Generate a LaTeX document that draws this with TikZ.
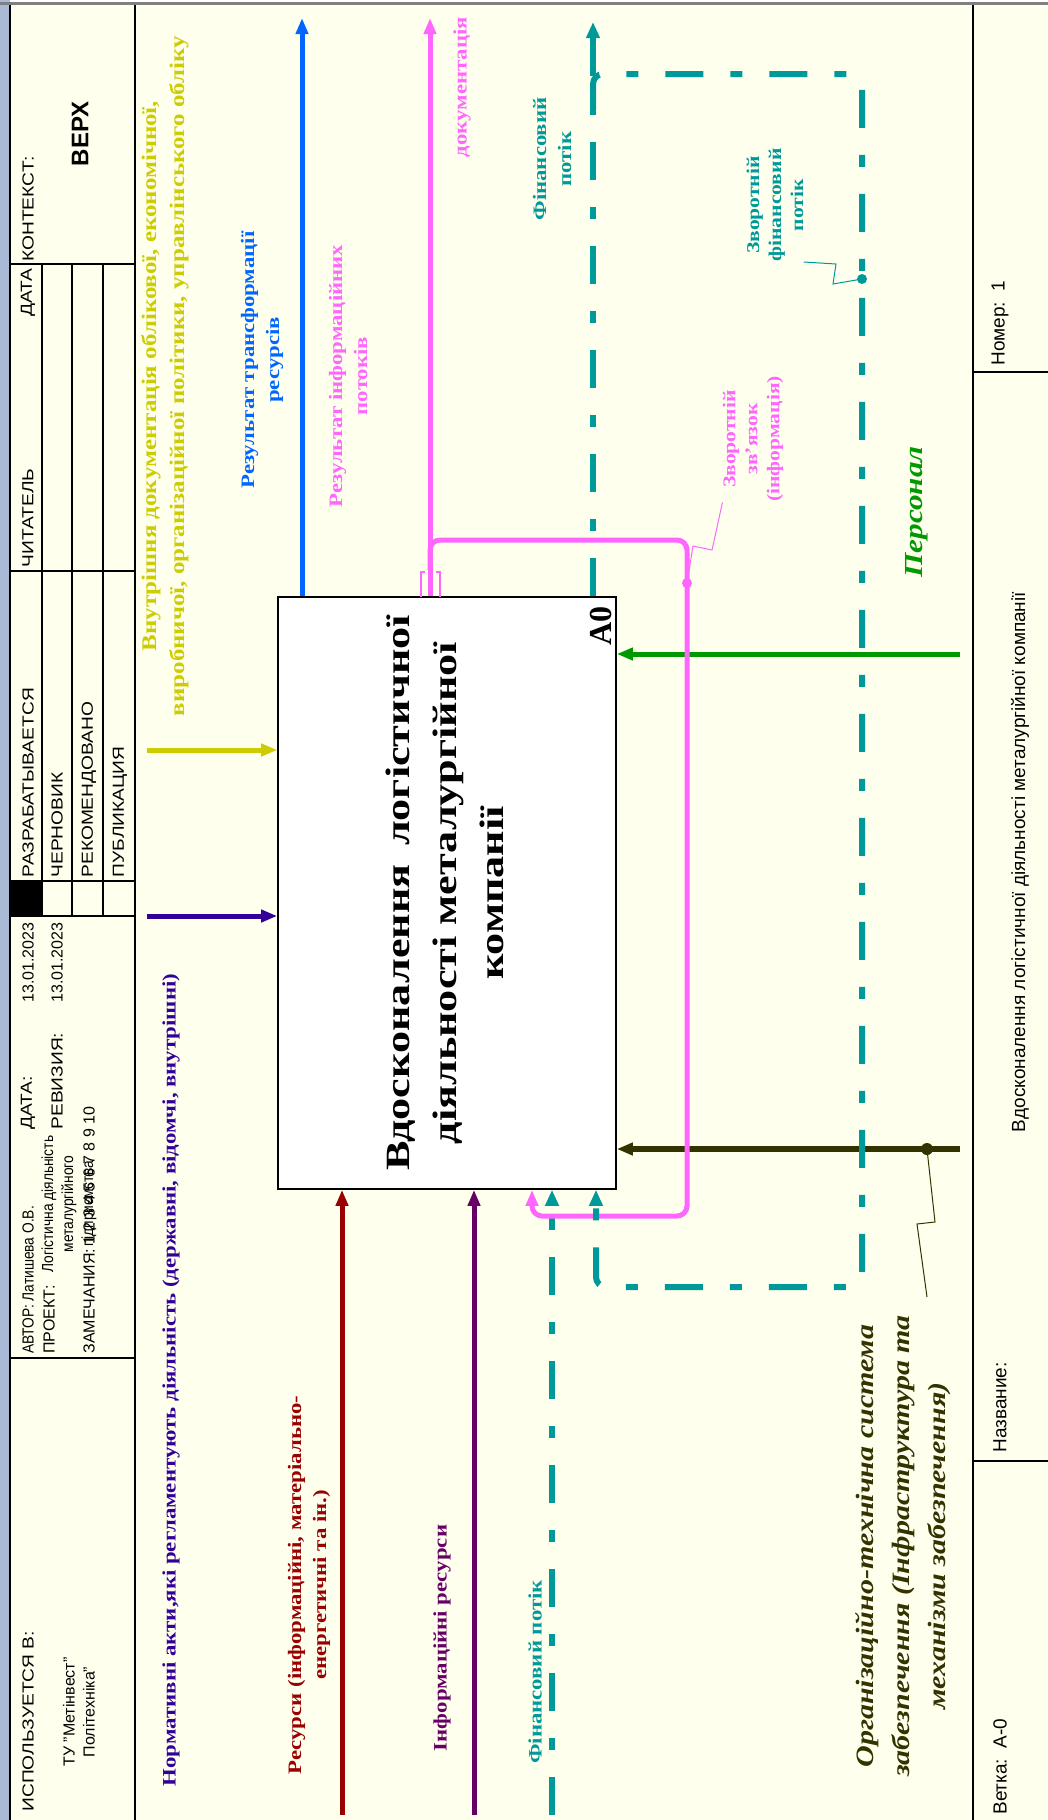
\documentclass[tikz,border=0pt]{standalone}
\usepackage{fontspec}
\setmainfont{Liberation Serif}
\setsansfont{Liberation Sans}
\usepackage{graphicx}
\usepackage{tikz}
\usetikzlibrary{arrows.meta}
\usetikzlibrary{positioning}
\definecolor{paper}{HTML}{FFFFEE}
\definecolor{strip}{HTML}{A8BAD6}
\definecolor{yelc}{HTML}{CCCC00}
\definecolor{indc}{HTML}{330099}
\definecolor{redc}{HTML}{990000}
\definecolor{purc}{HTML}{660066}
\definecolor{bluc}{HTML}{0066FF}
\definecolor{pnkc}{HTML}{FF66FF}
\definecolor{tlc}{HTML}{009999}
\definecolor{grnc}{HTML}{009900}
\definecolor{olvc}{HTML}{333300}
\tikzstyle{frameline} = [line width=0.8pt, black]
\tikzstyle{func} = [rectangle, draw=black, line width=0.8pt, fill=white, minimum width=169pt, minimum height=296pt, inner sep=0pt]
\tikzstyle{flow} = [line width=2.5pt, -{Triangle[length=8pt,width=6pt]}]
\tikzstyle{money} = [line width=3pt, tlc, dash pattern=on 19pt off 13.5pt on 6pt off 13.5pt, -{Triangle[length=8pt,width=6.5pt]}]
\tikzstyle{leader} = [line width=0.5pt]
\tikzstyle{hdr} = [rotate=90, inner sep=0pt, font=\sffamily\fontsize{8}{10}\selectfont]
\tikzstyle{hdrcaps} = [hdr, xscale=1.2]
\tikzstyle{hdrlow} = [hdr, xscale=0.86]
\tikzstyle{ftr} = [rotate=90, inner sep=0pt, font=\sffamily\fontsize{9.5}{11}\selectfont]
\tikzstyle{lbl} = [rotate=90, xscale=1.2, align=center, inner sep=0pt, font=\bfseries\fontsize{9.5}{12.5}\selectfont]
\tikzstyle{lbli} = [lbl, font=\bfseries\itshape\fontsize{12.5}{18}\selectfont]

\begin{document}
\begin{tikzpicture}[x=0.5pt, y=-0.5pt]
\useasboundingbox (0,0) rectangle (1048,1820);

% sheet
\fill[paper] (10,5) rectangle (1048,1820);
\fill[strip] (0,0) rectangle (10,1820);
\draw[line width=1.5pt, gray] (0,3) -- (1048,3);
\draw[frameline] (10,5) -- (10,1820);

% header block
\draw[frameline] (135,5) -- (135,1820);
\foreach \yy in {264,571,881,916,1358}
  \draw[frameline] (10,\yy) -- (135,\yy);
\foreach \xx in {42,72,103}
  \draw[frameline] (\xx,264) -- (\xx,916);
\fill (10,881) rectangle (42,916);

\node (hCtx) [hdrcaps, anchor=west] at (28,262) {КОНТЕКСТ:};
\node (hTop) [hdr, font=\sffamily\bfseries\fontsize{12}{14}\selectfont] at (80,134) {ВЕРХ};
\node (hDate) [hdrcaps, anchor=east] at (28,268) {ДАТА};
\node (hRead) [hdrcaps, anchor=west] at (28,568) {ЧИТАТЕЛЬ};
\node (hWork) [hdrcaps, anchor=west] at (28,878) {РАЗРАБАТЫВАЕТСЯ};
\node (hDraft) [hdrcaps, anchor=west] at (57,878) {ЧЕРНОВИК};
\node (hRec) [hdrcaps, anchor=west] at (89,878) {РЕКОМЕНДОВАНО};
\node (hPub) [hdrcaps, anchor=west] at (120,878) {ПУБЛИКАЦИЯ};
\node (hDt) [hdrcaps, anchor=west] at (28,1130) {ДАТА:};
\node (hDtV) [hdr, anchor=west] at (28,1003) {13.01.2023};
\node (hRev) [hdrcaps, anchor=west] at (57,1130) {РЕВИЗИЯ:};
\node (hRevV) [hdr, anchor=west] at (57,1003) {13.01.2023};
\node (hAuth) [hdrlow, anchor=west] at (28,1354) {АВТОР:\ Латишева О.В.};
\node (hProj) [hdr, anchor=west] at (49,1354) {ПРОЕКТ:};
\node (hProjT) [hdrlow, align=center] at (69,1204) {Логістична діяльність\\металургійного\\підприємства};
\node (hNotes) [hdr, anchor=west] at (89,1354) {ЗАМЕЧАНИЯ:\ 1\ 2\ 3\ 4\ 5\ 6\ 7\ 8\ 9\ 10};
\node (hUsed) [hdrcaps, anchor=west] at (28,1812) {ИСПОЛЬЗУЕТСЯ В:};
\node (hOrg) [hdr, align=center] at (79,1712) {ТУ "Метінвест"\\Політехніка"};

% footer block
\draw[frameline] (973,5) -- (973,1820);
\foreach \yy in {372,1461}
  \draw[frameline] (973,\yy) -- (1048,\yy);
\node (fNum) [ftr, anchor=west] at (1000,366) {Номер:\ \ 1};
\node (fTitle) [ftr] at (1020,862) {Вдосконалення логістичної діяльності металургійної компанії};
\node (fName) [ftr, anchor=west] at (1000,1453) {Название:};
\node (fBr) [ftr, anchor=west] at (1000,1815) {Ветка:\ \ А-0};

% function box
\node (a0) [func, font=\bfseries\fontsize{17}{23.5}\selectfont] at (447,893) {\rotatebox{90}{\scalebox{1.3}[1]{\begin{tabular}{@{}c@{}}Вдосконалення\ \,логістичної\\діяльності металургійної\\компанії\end{tabular}}}};
\node (lA0) [rotate=90, inner sep=0pt, anchor=south east, font=\bfseries\fontsize{16}{18}\selectfont] at (612,606) {A0};

% arrow ends
\coordinate (cYel) at (147,750);
\coordinate (cInd) at (147,916);
\coordinate (iRed) at (342,1815);
\coordinate (iPur) at (474,1815);
\coordinate (iFin) at (552,1815);
\coordinate (oBlue) at (302,18);
\coordinate (oPink) at (430,18);
\coordinate (oFin) at (593,22);
\coordinate (mStaff) at (960,654);
\coordinate (mInfra) at (960,1149);
\coordinate (pTurn) at (687,540);
\coordinate (pBack) at (532,1216);
\coordinate (tTurn) at (862,74);
\coordinate (tBack) at (596,1287);

% controls
\draw[flow, yelc] (cYel) -- (cYel -| a0.west);
\draw[flow, indc] (cInd) -- (cInd -| a0.west);
% inputs
\draw[flow, redc] (iRed) -- (iRed |- a0.south);
\draw[flow, purc] (iPur) -- (iPur |- a0.south);
\draw[money] (iFin) -- (iFin |- a0.south);
% outputs
\draw[flow, bluc] (oBlue |- a0.north) -- (oBlue);
\draw[flow, pnkc] (oPink |- a0.north) -- (oPink);
\draw[money] (oFin |- a0.north) -- (oFin);
% mechanisms
\draw[flow, grnc] (mStaff) -- (mStaff -| a0.east);
\draw[flow, olvc, line width=3pt] (mInfra) -- (mInfra -| a0.east);

% feedback loops
\draw[flow, pnkc, rounded corners=5pt] (430,570) |- (pTurn) |- (pBack) -- (pBack |- a0.south);
\draw[money, rounded corners=5pt] (593,110) |- (tTurn) |- (tBack) -- (tBack |- a0.south);

% tunnel marks
\draw[pnkc, line width=0.6pt] (425,572) -- (421,572) -- (421,597);
\draw[pnkc, line width=0.6pt] (436,572) -- (440,572) -- (440,597);

% labels
\node (lYel) [lbl, yelc, font=\bfseries\fontsize{10.4}{14}\selectfont] at (165,376) {Внутрішня документація облікової, економічної,\\виробничої, організаційної політики, управлінського обліку};
\node (lInd) [lbl, indc] at (171,1380) {Нормативні акти,які регламентують діяльність (державні, відомчі, внутрішні)};
\node (lRed) [lbl, redc] at (309,1585) {Ресурси (інформаційні, матеріально-\\енергетичні та ін.)};
\node (lPur) [lbl, purc] at (442,1638) {Інформаційні ресурси};
\node (lFin) [lbl, tlc] at (535,1672) {Фінансовий потік};
\node (lBlue) [lbl, bluc] at (262,360) {Результат трансформації\\ресурсів};
\node (lPink) [lbl, pnkc] at (348,376) {Результат інформаційних\\потоків};
\node (lDoc) [lbl, pnkc] at (462,87) {документація};
\node (lFinOut) [lbl, tlc] at (552,159) {Фінансовий\\потік};
\node (lFb) [lbl, pnkc, font=\bfseries\fontsize{9}{11}\selectfont] at (753,439) {Зворотній\\зв'язок\\(інформація)};
\node (lFinBack) [lbl, tlc, font=\bfseries\fontsize{9}{11}\selectfont] at (775,205) {Зворотній\\фінансовий\\потік};
\node (lStaff) [lbli, grnc, font=\bfseries\itshape\fontsize{13}{15}\selectfont] at (917,512) {Персонал};
\node (lInfra) [lbli, olvc] at (903,1546) {Організаційно-технічна система\\забезпечення (Інфраструктура та\\механізми забезпечення)};

% label leaders
\coordinate (pDot) at (687,583);
\coordinate (tDot) at (862,279);
\coordinate (oDot) at (927,1149);
\coordinate (oEnd) at (927,1297);
\fill[pnkc] (pDot) circle[radius=2.5pt];
\fill[tlc] (tDot) circle[radius=2.5pt];
\fill[olvc] (oDot) circle[radius=3pt];
\draw[leader, pnkc] (pDot) -- ++(6,-37) -- ++(19,4) -- (lFb.north west);
\draw[leader, tlc] (tDot) -- ++(-29,5) -- ++(3,-20) -- (lFinBack.south west);
\draw[leader, olvc] (oDot) -- ++(8,73) -- ++(-18,2) -- (oEnd);

\end{tikzpicture}
\end{document}
